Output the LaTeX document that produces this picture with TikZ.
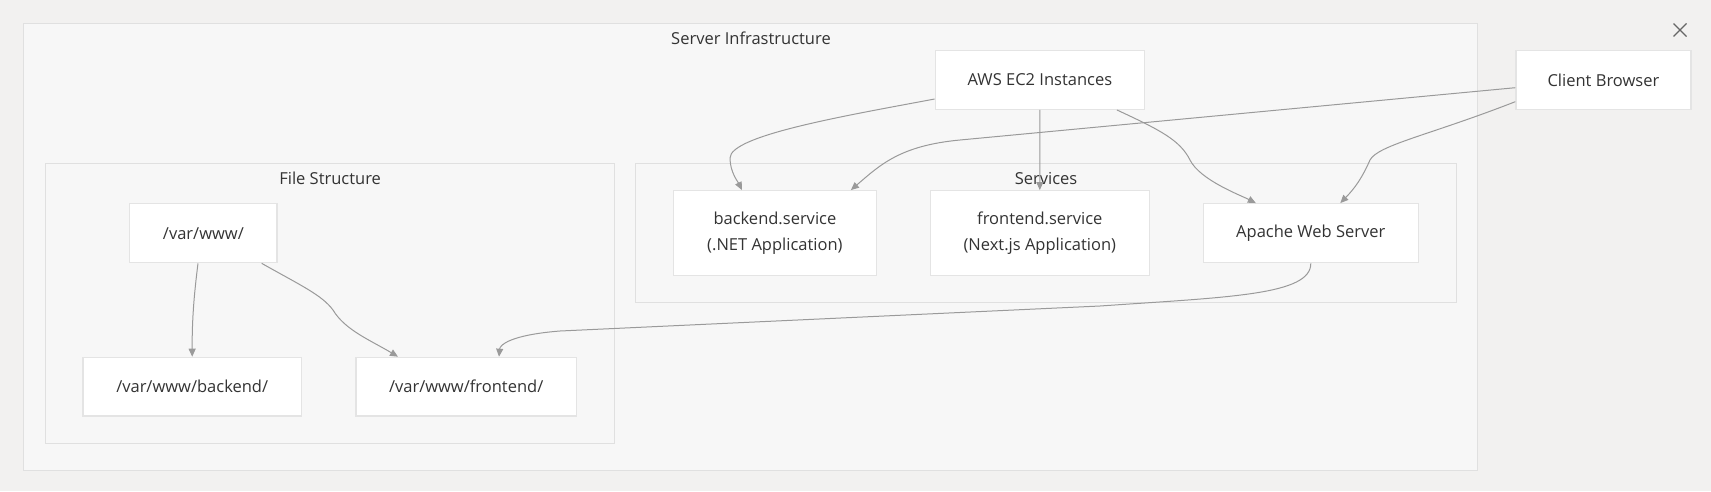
\documentclass[tikz,border=0pt]{standalone}
\usepackage{fontspec}
\setmainfont{Open Sans}
\usetikzlibrary{arrows.meta}
\definecolor{bg}{HTML}{F2F1F0}
\definecolor{clfill}{HTML}{F7F7F7}
\definecolor{clborder}{HTML}{E0E0E0}
\definecolor{ndborder}{HTML}{E4E4E4}
\definecolor{edgec}{HTML}{9A9A9A}
\definecolor{txt}{HTML}{333333}
\definecolor{xcol}{HTML}{666666}
\tikzset{
  cluster/.style={draw=clborder, fill=clfill, line width=1.3pt, inner sep=0pt},
  cltitle/.style={text=txt, inner sep=0pt, font=\fontsize{16.5}{20}\selectfont},
  box/.style={draw=ndborder, fill=white, line width=1.3pt, inner sep=0pt, text=txt,
    align=center, font=\fontsize{16.5}{26}\selectfont},
  conn/.style={draw=edgec, line width=1pt, -{Triangle[length=8pt,width=7pt]}}
}
\begin{document}
\begin{tikzpicture}[x=1pt,y=-1pt]
\useasboundingbox (0,0) rectangle (1711,491);
\fill[bg] (0,0) rectangle (1711,491);
% clusters
\node[cluster, minimum width=1454.3pt, minimum height=446.6pt] (outer) at (750.55,247) {};
\node[cltitle] (outerT) at (751,38.3) {Server Infrastructure};
\node[cluster, minimum width=568.7pt, minimum height=279.6pt] (files) at (330.15,303.5) {};
\node[cltitle] (filesT) at (330.15,178.3) {File Structure};
\node[cluster, minimum width=820.6pt, minimum height=139pt] (svcs) at (1046.1,233.2) {};
\node[cltitle] (svcsT) at (1046.1,178.3) {Services};
% nodes
\node[box, minimum width=209.3pt, minimum height=58.6pt] (aws) at (1039.9,80) {AWS EC2 Instances};
\node[box, minimum width=175pt, minimum height=58.6pt] (client) at (1603.4,80) {Client Browser};
\node[box, minimum width=203pt, minimum height=85pt] (backsvc) at (774.9,233.2) {backend.service\\(.NET Application)};
\node[box, minimum width=219.2pt, minimum height=85pt] (frontsvc) at (1039.8,233.2) {frontend.service\\(Next.js Application)};
\node[box, minimum width=214.8pt, minimum height=59pt] (apache) at (1310.8,233.2) {Apache Web Server};
\node[box, minimum width=147.2pt, minimum height=59pt] (varwww) at (203.4,233.2) {/var/www/};
\node[box, minimum width=218.6pt, minimum height=58.7pt] (varback) at (192.2,386.7) {/var/www/backend/};
\node[box, minimum width=220.3pt, minimum height=58.7pt] (varfront) at (466.2,386.7) {/var/www/frontend/};
% close icon
\coordinate (xc) at (1680,30);
\draw[xcol, line width=1.1pt] ([xshift=-6.5pt,yshift=6.5pt]xc) -- ([xshift=6.5pt,yshift=-6.5pt]xc)
  ([xshift=-6.5pt,yshift=-6.5pt]xc) -- ([xshift=6.5pt,yshift=6.5pt]xc);
% connectors
\draw[conn] ([yshift=-19pt]aws.west) .. controls (850,115) and (730,135) .. (730,158)
  .. controls (730,172) and (738,182) .. ([xshift=-33pt]backsvc.north);
\draw[conn] ([yshift=-7.7pt]client.west) -- (960,140) .. controls (900,145.6) and (880,165) .. ([xshift=76pt]backsvc.north);
\draw[conn] (aws.south) -- (frontsvc.north);
\draw[conn] ([xshift=77pt]aws.south) .. controls (1160,130) and (1180,140) .. (1190,160)
  .. controls (1200,180) and (1240,195) .. ([xshift=-55pt]apache.north);
\draw[conn] ([yshift=-21.7pt]client.west) .. controls (1430,135) and (1378,145) .. (1370,160)
  .. controls (1362,178) and (1355,188) .. ([xshift=29.5pt]apache.north);
\draw[conn] (apache.south) .. controls (1311,295) and (1230,297) .. (1100,306) -- (560,331)
  .. controls (510,335) and (500,345) .. ([xshift=32.8pt]varfront.north);
\draw[conn] ([xshift=-5.4pt]varwww.south) .. controls (194,295) and (192,320) .. (varback.north);
\draw[conn] ([xshift=58.3pt]varwww.south) .. controls (300,285) and (322,295) .. (333,310)
  .. controls (345,330) and (370,340) .. ([xshift=-68.2pt]varfront.north);
\end{tikzpicture}
\end{document}
